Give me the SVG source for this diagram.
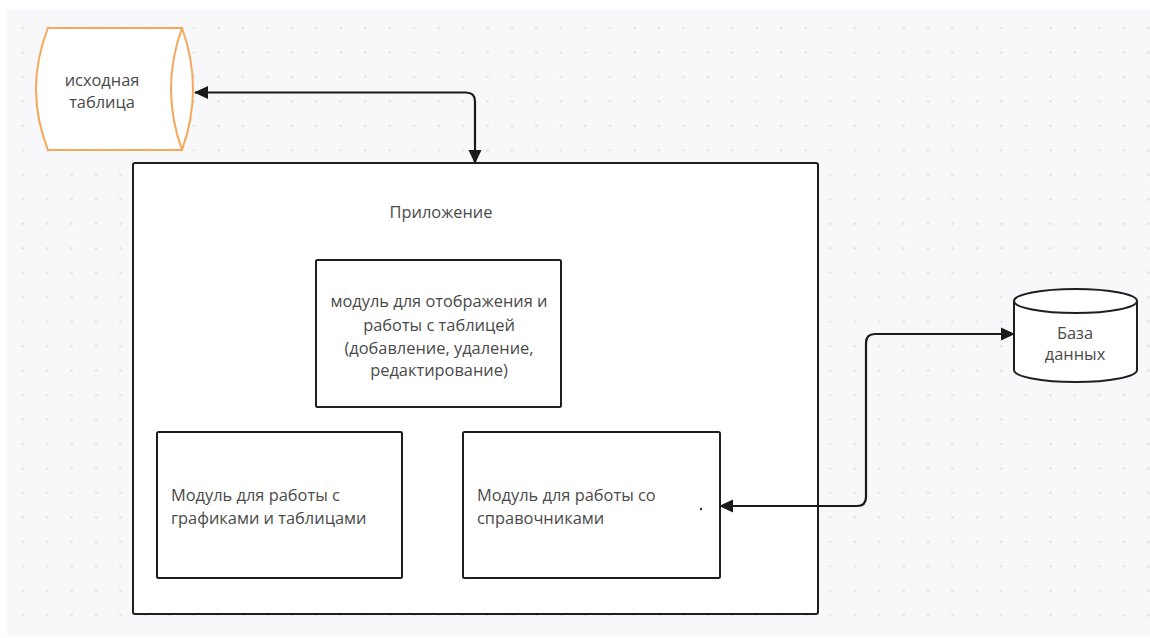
<svg xmlns="http://www.w3.org/2000/svg" width="1150" height="638" viewBox="0 0 1150 638">
<defs>
<pattern id="dots" patternUnits="userSpaceOnUse" x="10.47" y="15.77" width="24.47" height="24.47">
<circle cx="12.23" cy="12.23" r="1.3" fill="#e0e0e5"/>
</pattern>
<marker id="arr" viewBox="0 0 14 14" refX="13" refY="7" markerWidth="14" markerHeight="14" markerUnits="userSpaceOnUse" orient="auto-start-reverse">
<path d="M0,0.5 L14,7 L0,13.5 Z" fill="#1a1a1a"/>
</marker>
<style>
.box{fill:#ffffff;stroke:#1f1f1f;stroke-width:2}
.t{font-family:"Open Sans","Noto Sans","DejaVu Sans",sans-serif;font-size:16.4px;fill:#4a4a4a}
.c{text-anchor:middle}
.con{fill:none;stroke:#1a1a1a;stroke-width:2.2}
</style>
</defs>
<rect x="0" y="0" width="1150" height="638" fill="#ffffff"/>
<rect x="7" y="9" width="1143" height="628" fill="#f8f8fa"/>
<rect x="7" y="9" width="1143" height="628" fill="url(#dots)"/>

<g id="app">
<rect class="box" x="133" y="163" width="685" height="451" rx="2"/>
<text class="t c" x="441" y="218">Приложение</text>
</g>

<g id="source-table">
<path d="M48,28 H182 Q204,89 182,150 H48 Q24,89 48,28 Z" fill="#ffffff" stroke="#f5a85a" stroke-width="2"/>
<path d="M182,28 Q160,89 182,150" fill="none" stroke="#f5a85a" stroke-width="2"/>
<text class="t c" x="102" y="86">исходная</text>
<text class="t c" x="102" y="108">таблица</text>
</g>

<g id="module-table">
<rect class="box" x="316" y="260" width="245" height="147" rx="1.5"/>
<text class="t c" x="439" y="307">модуль для отображения и</text>
<text class="t c" x="439" y="331">работы с таблицей</text>
<text class="t c" x="439" y="354">(добавление, удаление,</text>
<text class="t c" x="439" y="376">редактирование)</text>
</g>

<g id="module-charts">
<rect class="box" x="157" y="432" width="245" height="146" rx="1.5"/>
<text class="t" x="171" y="501">Модуль для работы с</text>
<text class="t" x="171" y="524">графиками и таблицами</text>
</g>

<g id="module-refs">
<rect class="box" x="463" y="432" width="257" height="146" rx="1.5"/>
<text class="t" x="477" y="501">Модуль для работы со</text>
<text class="t" x="477" y="524">справочниками</text>
<circle cx="701" cy="509" r="1.2" fill="#333"/>
</g>

<g id="database">
<path d="M1014,301 V370 A61.5,12 0 0 0 1137,370 V301" fill="#ffffff" stroke="#1f1f1f" stroke-width="2"/>
<ellipse cx="1075.5" cy="301" rx="61.5" ry="12" fill="#ffffff" stroke="#1f1f1f" stroke-width="2"/>
<text class="t c" x="1075" y="339">База</text>
<text class="t c" x="1075" y="360">данных</text>
</g>

<g id="connectors">
<path class="con" d="M195,92.5 H466 Q475,92.5 475,101.5 V163" marker-start="url(#arr)" marker-end="url(#arr)"/>
<path class="con" d="M720,506 H857 Q866,506 866,497 V343 Q866,334 875,334 H1014" marker-start="url(#arr)" marker-end="url(#arr)"/>
</g>
</svg>
